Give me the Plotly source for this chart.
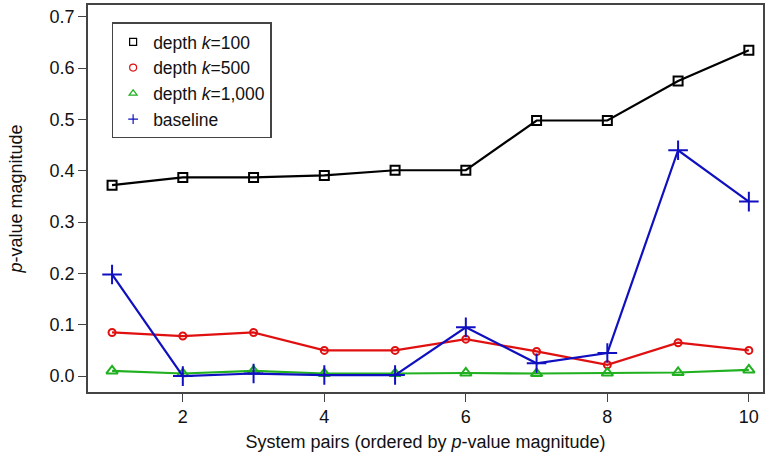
import plotly.graph_objects as go

x = [1, 2, 3, 4, 5, 6, 7, 8, 9, 10]
k100 = [0.372, 0.387, 0.387, 0.391, 0.401, 0.401, 0.498, 0.498, 0.575, 0.635]
k500 = [0.085, 0.078, 0.085, 0.050, 0.050, 0.072, 0.048, 0.022, 0.065, 0.050]
k1000 = [0.010, 0.005, 0.010, 0.005, 0.005, 0.006, 0.005, 0.006, 0.007, 0.012]
baseline = [0.198, 0.000, 0.005, 0.002, 0.002, 0.095, 0.025, 0.045, 0.440, 0.340]

names = ["depth <i>k</i>=100", "depth <i>k</i>=500", "depth <i>k</i>=1,000", "baseline"]
colors = ["#000000", "#e01010", "#20b020", "#1010c0"]
symbols = ["square-open", "circle-open", "triangle-up-open", "cross-thin-open"]
sizes = [9, 7, 10, 14]

fig = go.Figure()
for ys, nm, c, s, sz in zip([k100, k500, k1000, baseline], names, colors, symbols, sizes):
    fig.add_trace(go.Scatter(
        x=x, y=ys, name=nm, mode="lines+markers", showlegend=False,
        line=dict(color=c, width=2.2),
        marker=dict(symbol=s, size=sz, color=c, line=dict(color=c, width=2)),
    ))
# legend entries: markers only, as in the reference
for nm, c, s in zip(names, colors, symbols):
    fig.add_trace(go.Scatter(
        x=[None], y=[None], name=nm, mode="markers", showlegend=True,
        marker=dict(symbol=s, size=7, color=c, line=dict(color=c, width=1.2)),
    ))

fig.update_layout(
    width=767, height=462,
    margin=dict(l=88, r=2, t=5, b=70),
    paper_bgcolor="white", plot_bgcolor="white",
    font=dict(family="Liberation Sans, Arial, sans-serif", size=18, color="#111"),
    showlegend=True,
    legend=dict(x=0.035, y=0.955, xanchor="left", yanchor="top",
                bordercolor="#444", borderwidth=1.5, bgcolor="white",
                font=dict(size=17.5), tracegroupgap=0, itemwidth=30,
                itemsizing="trace"),
    xaxis=dict(range=[0.66, 10.2], tickvals=[2, 4, 6, 8, 10],
               ticks="outside", ticklen=8, tickcolor="#444",
               showline=True, mirror=True, linecolor="#444", linewidth=1.5,
               showgrid=False, zeroline=False,
               title=dict(text="System pairs (ordered by <i>p</i>-value magnitude)",
                          font=dict(size=18), standoff=9)),
    yaxis=dict(range=[-0.031, 0.723], tickvals=[0, 0.1, 0.2, 0.3, 0.4, 0.5, 0.6, 0.7],
               tickformat=".1f",
               ticks="outside", ticklen=8, tickcolor="#444",
               showline=True, mirror=True, linecolor="#444", linewidth=1.5,
               showgrid=False, zeroline=False,
               title=dict(text="<i>p</i>-value magnitude", font=dict(size=18), standoff=22)),
)

fig.write_html("out.html", config={"displayModeBar": False},
               post_script="document.body.style.margin='0';")
